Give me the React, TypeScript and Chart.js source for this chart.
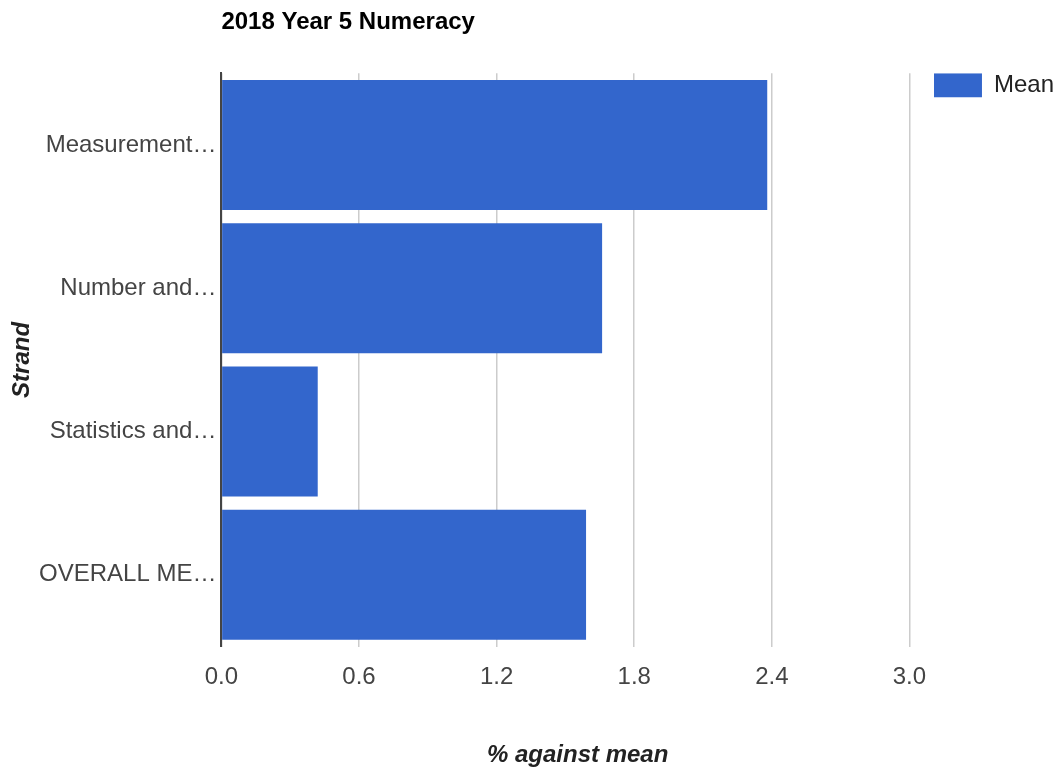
import React, { useEffect, useRef } from "react";
import { Chart, registerables } from "chart.js";

Chart.register(...registerables);

const TITLE = "2018 Year 5 Numeracy";
const CATEGORIES = ["Measurement…", "Number and…", "Statistics and…", "OVERALL ME…"];
const SERIES_LABEL = "Mean";
const MEAN_VALUES = [2.38, 1.66, 0.42, 1.59];
const X_TICKS = [0, 0.6, 1.2, 1.8, 2.4, 3.0];
const X_MIN = 0;
const X_MAX = 3.107;
const X_TITLE = "% against mean";
const Y_TITLE = "Strand";

const FONT = "'Liberation Sans', Arial, sans-serif";

export default function App() {
  const ref = useRef<HTMLCanvasElement | null>(null);

  useEffect(() => {
    document.body.style.margin = "0";
    const canvas = ref.current;
    if (!canvas) return;
    Chart.defaults.font.family = FONT;
    const chart = new Chart(canvas, {
      type: "bar",
      data: {
        labels: CATEGORIES,
        datasets: [
          {
            label: SERIES_LABEL,
            data: MEAN_VALUES,
            backgroundColor: "#3366cc",
            borderWidth: 0,
            categoryPercentage: 1,
            barPercentage: 0.907,
          },
        ],
      },
      options: {
        indexAxis: "y",
        animation: false,
        responsive: true,
        maintainAspectRatio: false,
        layout: { padding: { left: 0, right: -6, top: 0, bottom: 0 } },
        plugins: {
          title: {
            display: true,
            text: TITLE,
            align: "start",
            fullSize: false,
            color: "#000",
            font: { size: 24, weight: "bold", family: FONT },
            padding: { top: 8.4, bottom: 36.1 },
          },
          legend: {
            display: true,
            position: "right",
            align: "start",
            fullSize: false,
            labels: {
              boxWidth: 48,
              boxHeight: 24,
              padding: 0,
              color: "#222",
              font: { size: 24, family: FONT },
            },
          },
          tooltip: { enabled: false },
        },
        scales: {
          x: {
            type: "linear",
            min: X_MIN,
            max: X_MAX,
            afterBuildTicks: (scale: any) => {
              scale.ticks = X_TICKS.map((v) => ({ value: v }));
            },
            afterFit: (scale: any) => {
              scale.height = 123.5;
            },
            ticks: {
              padding: 16,
              color: "#444",
              font: { size: 24, family: FONT },
              callback: (v: any) => Number(v).toFixed(1),
            },
            grid: {
              drawTicks: false,
              color: "#cccccc",
              lineWidth: 1.5,
            },
            border: { display: false },
            title: {
              display: true,
              text: X_TITLE,
              color: "#222",
              font: { size: 24, weight: "bold", style: "italic", family: FONT },
              padding: { top: 0, bottom: 0 },
            },
          },
          y: {
            afterFit: (scale: any) => {
              scale.width = 221.4;
            },
            ticks: {
              padding: 5,
              color: "#444",
              font: { size: 24, family: FONT },
            },
            grid: { display: false, drawTicks: false },
            border: { display: true, color: "#444", width: 2 },
            title: {
              display: true,
              text: Y_TITLE,
              color: "#222",
              font: { size: 24, weight: "bold", style: "italic", family: FONT },
              padding: { top: 7.6, bottom: 0 },
            },
          },
        },
      },
    });
    return () => chart.destroy();
  }, []);

  return (
    <div style={{ position: "relative", width: "1058px", height: "770px" }}>
      <canvas ref={ref} />
    </div>
  );
}
